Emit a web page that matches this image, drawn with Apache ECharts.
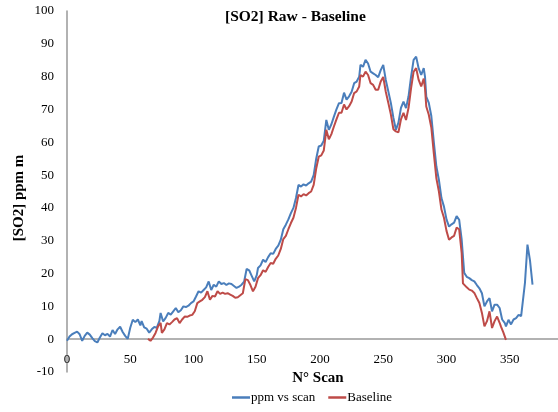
<!DOCTYPE html>
<html>
<head>
<meta charset="utf-8">
<script src="https://cdn.jsdelivr.net/npm/echarts@6/dist/echarts.min.js"></script>
<style>html,body{margin:0;padding:0;background:#fff}#c{width:558px;height:412px}</style>
</head>
<body>
<div id="c"></div>
<script>
var chartTitle = '[SO2] Raw - Baseline';
var xName = 'N° Scan';
var yName = '[SO2] ppm m';
var seriesNames = ['ppm vs scan', 'Baseline'];

var blueScan = [0,2,4,6,8,10,12,14,16,18,20,22,24,26,28,30,32,34,36,38,40,42,44,46,48,50,52,54,56,58,59,61,63,65,67,69,71,73,74,76,78,80,82,84,86,88,90,92,94,96,98,100,102,104,106,108,110,112,114,116,118,120,122,124,126,128,130,132,134,136,138,140,142,144,146,148,150,151,153,155,157,159,161,163,165,167,169,171,173,175,177,179,181,183,185,187,189,191,193,195,197,199,201,203,205,207,209,211,213,215,217,219,221,223,225,227,229,231,232,234,236,238,240,242,244,246,248,250,252,254,256,258,260,262,264,266,268,270,272,274,276,278,280,282,283,284,286,288,290,292,294,296,298,300,302,304,306,308,310,312,314,316,318,320,322,324,326,328,330,332,334,336,338,340,342,344,346,347,349,351,353,355,357,359,360,362,364,365,366,368];
var blueValue = [-0.5,0.8,1.5,1.9,2.3,1.5,-0.5,1.0,2.0,1.4,0.3,-0.6,-1.0,0.5,1.8,1.2,1.6,0.8,2.8,1.6,3.0,3.8,2.2,1.0,0.1,3.5,5.9,5.2,6.0,4.2,5.5,3.6,3.2,2.0,3.0,3.7,3.5,5.5,8.0,5.4,6.5,8.0,7.5,8.5,9.5,8.2,8.8,10.0,9.8,10.2,11.0,11.5,13.0,14.6,14.2,15.0,15.8,17.6,15.0,16.6,16.0,17.6,16.8,17.1,16.5,17.0,16.8,16.2,15.6,16.0,16.6,17.5,21.4,21.0,19.3,17.6,19.5,21.7,22.5,24.2,23.5,25.0,26.2,26.0,27.5,28.5,30.3,33.5,34.9,36.5,38.4,40.0,43.0,47.0,46.5,47.2,46.8,47.5,48.0,50.0,55.0,58.7,59.0,60.5,66.8,63.8,65.5,67.8,70.0,71.9,72.0,75.1,73.0,74.0,75.4,78.0,78.5,80.0,83.6,83.0,85.1,84.0,81.5,81.0,80.5,79.8,82.0,83.6,79.0,75.5,72.0,67.5,63.8,66.0,70.5,72.4,70.4,74.0,80.0,85.1,86.1,82.5,80.5,82.6,80.0,73.9,72.0,68.0,60.0,52.6,48.5,43.0,40.4,36.5,34.3,35.0,35.5,37.5,36.4,30.3,20.2,19.0,18.6,18.0,17.6,16.5,15.5,14.0,10.0,11.5,12.5,8.5,10.5,10.5,9.5,6.0,5.0,3.9,5.9,4.5,6.0,6.4,7.4,7.0,6.4,17.1,28.8,28.5,24.0,16.6];

var redScan = [64,66,67,68,70,72,74,75,77,79,81,83,85,87,89,91,93,95,97,99,101,103,105,107,109,111,113,115,117,119,121,123,125,127,129,131,133,135,137,139,141,143,145,147,149,151,153,155,157,159,161,163,165,167,169,171,173,175,177,179,181,183,185,187,189,191,193,195,197,199,201,203,205,207,209,211,213,215,217,219,221,223,225,227,229,231,232,234,236,238,240,242,244,246,248,250,252,254,256,258,260,262,264,266,268,270,272,274,276,278,280,282,283,284,286,288,290,292,294,296,298,300,302,304,306,308,310,312,313,314,316,318,320,322,324,326,328,330,332,334,336,338,340,342,343,345,346,347];
var redValue = [0.1,-0.5,-0.8,0.5,1.9,3.9,5.0,1.9,3.0,4.9,4.5,5.2,6.0,6.4,4.9,6.0,6.9,6.8,7.2,7.4,8.5,11.0,11.5,12.0,12.8,14.6,12.0,13.2,13.0,14.6,13.8,14.2,13.8,14.0,13.6,13.2,12.6,12.8,13.4,14.0,18.3,18.0,16.5,14.6,16.0,18.6,19.5,21.0,20.5,22.0,23.2,23.0,24.5,25.5,27.5,30.5,31.5,33.5,35.4,37.0,40.0,44.0,43.5,44.2,43.8,44.5,45.0,47.0,52.0,55.6,56.0,57.5,63.8,60.9,62.5,64.8,67.0,69.0,69.0,71.5,70.0,71.0,72.4,75.0,75.5,77.0,80.5,80.0,81.5,80.5,78.0,77.5,76.0,76.0,78.5,79.9,75.4,72.0,68.5,64.0,63.3,63.0,67.0,69.0,66.8,70.5,76.5,81.5,82.6,79.0,77.0,79.4,76.5,70.9,68.4,64.5,56.5,49.0,45.0,39.5,37.0,33.0,30.3,31.0,31.5,34.0,33.5,26.2,17.0,16.6,15.8,15.1,14.8,14.1,12.5,11.0,8.0,3.9,5.5,8.5,3.4,5.5,6.9,5.0,3.9,2.0,1.4,-0.2];

function pairs(xs, ys) { return xs.map(function (x, i) { return [x, ys[i]]; }); }

var FONT = '"Liberation Serif", "Times New Roman", serif';
var chart = echarts.init(document.getElementById('c'), null, { renderer: 'canvas' });
chart.setOption({
  animation: false,
  backgroundColor: '#fff',
  textStyle: { fontFamily: FONT },
  title: {
    text: chartTitle,
    left: 220, top: 4,
    textStyle: { fontFamily: FONT, fontSize: 15.5, fontWeight: 'bold', color: '#000' }
  },
  legend: {
    data: seriesNames,
    left: 232, top: 391, padding: 0,
    icon: 'rect', itemWidth: 18, itemHeight: 2.5, itemGap: 13,
    textStyle: { fontFamily: FONT, fontSize: 13, color: '#000', padding: [0, 0, 0, -4] }
  },
  grid: { left: 67, right: -15, top: 11, bottom: 40, outerBoundsMode: 'none', containLabel: false },
  xAxis: {
    type: 'value', min: 0, max: 400, interval: 50,
    axisLine: { show: true, onZero: true, lineStyle: { color: '#999', width: 1.5 } },
    axisTick: { show: false },
    axisLabel: { fontFamily: FONT, fontSize: 13, color: '#000', margin: -19 },
    splitLine: { show: false }
  },
  yAxis: {
    type: 'value', min: -10, max: 100, interval: 10,
    axisLine: { show: true, lineStyle: { color: '#999', width: 1.5 } },
    axisTick: { show: false },
    axisLabel: { fontFamily: FONT, fontSize: 13, color: '#000', margin: 13 },
    splitLine: { show: false }
  },
  graphic: [
    { type: 'text', x: 318, y: 378, style: { text: xName, font: 'bold 15px ' + FONT, fill: '#000', align: 'center', verticalAlign: 'middle' } },
    { type: 'text', x: 19.5, y: 198, rotation: Math.PI / 2, style: { text: yName, font: 'bold 15px ' + FONT, fill: '#000', align: 'center', verticalAlign: 'middle' } }
  ],
  series: [
    { name: seriesNames[0], type: 'line', data: pairs(blueScan, blueValue), showSymbol: false, symbol: 'none',
      lineStyle: { color: '#4A7EBB', width: 2 }, itemStyle: { color: '#4A7EBB' } },
    { name: seriesNames[1], type: 'line', data: pairs(redScan, redValue), showSymbol: false, symbol: 'none',
      lineStyle: { color: '#BE4B48', width: 2 }, itemStyle: { color: '#BE4B48' } }
  ]
});
</script>
</body>
</html>
